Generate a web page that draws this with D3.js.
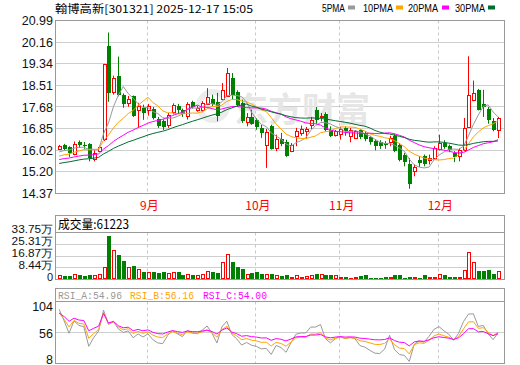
<!DOCTYPE html>
<html><head><meta charset="utf-8">
<script src="https://cdn.jsdelivr.net/npm/d3@7"></script>
<style>html,body{margin:0;padding:0;background:#fff;overflow:hidden}</style>
</head><body>
<svg id="c" width="520" height="365" xmlns="http://www.w3.org/2000/svg"></svg>
<script>
// ---------------- data ----------------
const dates = [
 "08-06","08-07","08-08","08-11","08-12","08-13","08-14","08-15","08-18","08-19","08-20","08-21","08-22","08-25","08-26","08-27","08-28","08-29",
 "09-01","09-02","09-03","09-04","09-05","09-08","09-09","09-10","09-11","09-12","09-15","09-16","09-17","09-18","09-19","09-22","09-23","09-24","09-25","09-26","09-29","09-30",
 "10-09","10-10","10-13","10-14","10-15","10-16","10-17","10-20","10-21","10-22","10-23","10-24","10-27","10-28","10-29","10-30","10-31",
 "11-03","11-04","11-05","11-06","11-07","11-10","11-11","11-12","11-13","11-14","11-17","11-18","11-19","11-20","11-21","11-24","11-25","11-26","11-27","11-28",
 "12-01","12-02","12-03","12-04","12-05","12-08","12-09","12-10","12-11","12-12","12-15","12-16","12-17"];
const openP = [16.08,16.22,16.15,15.90,16.34,16.22,16.27,15.70,16.00,16.45,20.01,18.25,18.85,18.15,17.83,18.10,17.57,17.65,
 17.55,17.60,17.22,17.13,17.00,17.47,17.73,17.55,17.32,17.86,17.55,17.55,17.81,17.99,17.86,17.99,18.11,18.79,18.24,17.83,17.09,17.30,
 17.17,16.88,16.24,16.94,16.11,16.46,16.33,15.99,16.56,16.69,16.75,17.01,17.58,17.30,17.43,16.81,16.62,
 16.66,16.88,16.58,16.50,16.81,16.69,16.53,16.37,16.33,16.30,16.33,16.58,16.24,15.86,15.48,15.22,15.67,15.79,15.64,15.73,
 16.08,16.30,16.20,15.92,15.79,16.05,16.92,17.93,18.34,17.81,17.60,17.13,16.81];
const highP = [16.23,16.27,16.18,16.36,16.40,16.34,16.30,16.02,16.20,19.33,20.53,18.88,19.61,18.20,18.10,18.12,17.84,17.77,
 17.80,17.68,17.30,17.20,17.45,17.82,17.80,17.62,17.86,17.92,17.72,17.90,18.40,18.15,18.22,18.60,19.17,18.98,18.32,17.96,17.45,17.58,
 17.26,17.00,16.84,17.00,16.62,16.69,16.43,16.30,16.88,16.97,16.92,17.30,17.68,17.45,17.48,16.94,16.80,
 16.92,16.94,16.88,16.80,16.84,16.75,16.58,16.43,16.41,16.37,16.58,16.66,16.30,15.92,15.73,15.48,15.80,15.86,15.86,16.18,
 16.62,16.41,16.24,15.99,16.11,17.26,19.62,18.69,18.37,18.34,17.68,17.26,17.30];
const lowP = [16.05,16.03,15.77,15.83,16.11,16.08,15.60,15.60,15.98,16.38,17.88,18.15,18.09,17.65,17.69,17.30,16.90,17.19,
 17.35,17.20,16.88,16.80,16.88,17.40,17.45,17.30,17.20,17.62,17.50,17.48,17.75,17.70,17.13,17.95,18.08,17.96,17.68,17.07,16.94,17.00,
 16.81,16.50,15.35,16.05,15.99,16.18,15.77,15.95,16.18,16.58,16.46,16.84,17.04,17.13,16.75,16.53,16.55,
 16.43,16.58,16.33,16.45,16.45,16.37,16.24,16.02,16.08,16.08,16.18,15.95,15.60,15.41,14.55,15.03,15.39,15.41,15.48,15.67,
 16.02,16.08,15.95,15.57,15.60,15.99,16.88,17.90,17.55,17.30,17.04,16.75,16.49];
const closeP = [16.18,16.08,15.93,16.28,16.21,16.19,15.71,15.93,16.15,19.33,18.23,18.80,18.15,17.80,17.99,17.35,17.73,17.46,
 17.73,17.26,16.97,16.90,17.39,17.77,17.58,17.42,17.81,17.68,17.65,17.83,18.06,17.81,17.35,18.34,19.00,18.15,17.77,17.13,17.30,17.04,
 16.92,16.69,16.71,16.08,16.46,16.28,15.82,16.24,16.75,16.84,16.84,17.20,17.20,17.35,16.81,16.58,16.75,
 16.84,16.75,16.79,16.75,16.52,16.46,16.33,16.20,16.18,16.24,16.49,15.99,15.64,15.57,14.75,15.39,15.55,15.48,15.73,16.11,
 16.30,16.15,16.02,15.77,16.05,16.88,18.15,18.21,17.58,17.68,17.20,16.79,17.26];
const volume = [31000,24000,24000,38000,31000,24000,31000,31000,38000,87000,309000,212000,176000,135000,87000,96000,72000,53000,
 53000,53000,48000,55000,48000,53000,53000,31000,43000,33000,33000,38000,58000,53000,48000,125000,183000,128000,91000,72000,43000,48000,
 55000,43000,43000,43000,29000,24000,29000,21500,29000,21500,24000,29000,43000,43000,29000,29000,29000,
 21500,21500,14000,21500,24000,29000,14000,14000,14000,21500,21500,29000,29000,14000,21500,21500,14000,29000,21500,21500,
 36000,29000,21500,21500,21500,65000,195000,123000,60000,60000,65000,43000,61223];
// closes before the visible window (estimated from where the MA / RSI lines start)
const priorCloses = [15.05,15.10,15.18,15.12,15.25,15.30,15.22,15.28,15.35,15.33,
 15.40,15.48,15.45,15.52,15.60,15.55,15.58,15.62,15.57,15.63,
 15.58,15.66,15.60,15.68,15.68,15.80,15.85,15.92,16.05];

const priceTicks = [20.99,20.16,19.34,18.51,17.68,16.85,16.02,15.20,14.37];
const priceTickLabels = ["20.99","20.16","19.34","18.51","17.68","16.85","16.02","15.20","14.37"];
const volTicks = [337500,253100,168700,84400,0];
const volTickLabels = ["33.75万","25.31万","16.87万","8.44万","0"];
const rsiTicks = [104,56,8];
const monthStarts = ["09-01","10-09","11-03","12-01"];
const monthLabels = ["9月","10月","11月","12月"];
const maPeriods = [5,10,20,30];
const maNames = ["5PMA","10PMA","20PMA","30PMA"];
const rsiPeriods = [6,12,24];
const rsiNames = ["RSI_A","RSI_B","RSI_C"];
const rsiShown = ["54.96","56.16","54.00"];
const titleText = "翰博高新[301321] 2025-12-17 15:05";
const volTitle = "成交量:61223";
const watermark = "东方财富";

// ---------------- styles ----------------
const RED = "#ff0000", GREEN = "#008000";
const maColors = ["#999999","#ffa500","#ff00ff","#006e33"];
const rsiColors = ["#999999","#ffa500","#ff00ff"];
const GRID = "#cfcfcf", BORDER = "#999999";
const NUMFONT = "'Liberation Sans', Arial, sans-serif";
const CJK = "'Noto Sans CJK SC', 'Liberation Sans', sans-serif";

const svg = d3.select("#c");
svg.append("rect").attr("width",520).attr("height",365).attr("fill","#fff");

const L = 55.5, R = 504.5;
const main = {top:20.5, bottom:193.5};
const vol = {top:215.5, head:232.5, bottom:279.5};
const rsi = {top:288.5, head:301.5, bottom:363.5};

const x = d3.scaleBand().domain(dates).range([56.7, 500.5]).padding(0);
const cx = d => x(d) + x.bandwidth()/2;
const yP = d3.scaleLinear().domain([14.37, 20.99]).range([main.bottom, main.top]);
const yV = d3.scaleLinear().domain([0, 337500]).range([vol.bottom, vol.head]);
const yR = d3.scaleLinear().domain([8, 104]).range([rsi.bottom, rsi.head]);
const crisp = v => Math.round(v - 0.5) + 0.5;

// ---------------- grids ----------------
const grid = svg.append("g");
priceTicks.slice(1, -1).forEach(t => {
  grid.append("line").attr("x1",L).attr("x2",R).attr("y1",crisp(yP(t))).attr("y2",crisp(yP(t)))
    .attr("stroke",GRID).attr("stroke-width",1);
});
volTicks.slice(1, -1).forEach(t => {
  grid.append("line").attr("x1",L).attr("x2",R).attr("y1",crisp(yV(t))).attr("y2",crisp(yV(t)))
    .attr("stroke",GRID).attr("stroke-width",1);
});
grid.append("line").attr("x1",L).attr("x2",R).attr("y1",crisp(yR(56))).attr("y2",crisp(yR(56)))
  .attr("stroke",GRID).attr("stroke-width",1);

monthStarts.forEach(m => {
  const xm = Math.round(cx(m) - 1) + 0.5;
  [[main.top, main.bottom],[vol.head, vol.bottom],[rsi.head, rsi.bottom]].forEach(([a,b]) => {
    grid.append("line").attr("x1",xm).attr("x2",xm).attr("y1",a).attr("y2",b)
      .attr("stroke","#c8c8c8").attr("stroke-width",1).attr("stroke-dasharray","3,3");
  });
});

// ---------------- watermark ----------------
const wm = svg.append("g");
wm.append("circle").attr("cx",213).attr("cy",106).attr("r",14)
  .attr("fill","none").attr("stroke","#ececec").attr("stroke-width",6);
wm.append("text").attr("x",234).attr("y",122).text(watermark)
  .attr("font-family",CJK).attr("font-size",34).attr("font-weight","bold")
  .attr("fill","#e6e6e6");

// ---------------- candles ----------------
const cg = svg.append("g");
dates.forEach((d,i) => {
  const px = Math.round(cx(d));
  const o = openP[i], c = closeP[i], h = highP[i], l = lowP[i];
  const up = c >= o;
  const top = Math.round(yP(Math.max(o,c)));
  let bot = Math.round(yP(Math.min(o,c)));
  if (bot - top < 1) bot = top + 1;
  const wx = px + 0.5;
  if (up) {
    cg.append("line").attr("x1",wx).attr("x2",wx).attr("y1",yP(h)).attr("y2",top)
      .attr("stroke",RED).attr("stroke-width",1);
    cg.append("line").attr("x1",wx).attr("x2",wx).attr("y1",bot+1).attr("y2",yP(l))
      .attr("stroke",RED).attr("stroke-width",1);
    cg.append("rect").attr("x",px-0.5).attr("y",top+0.5).attr("width",3).attr("height",Math.max(bot-top,1))
      .attr("fill","#fff").attr("stroke",RED).attr("stroke-width",1);
  } else {
    cg.append("line").attr("x1",wx).attr("x2",wx).attr("y1",yP(h)).attr("y2",yP(l))
      .attr("stroke",GREEN).attr("stroke-width",1);
    cg.append("rect").attr("x",px-1).attr("y",top).attr("width",4).attr("height",Math.max(bot-top,1))
      .attr("fill",GREEN);
  }
  // volume
  const vt = Math.round(yV(volume[i]));
  if (up) {
    cg.append("rect").attr("x",px-0.5).attr("y",vt+0.5).attr("width",3).attr("height",Math.max(279 - vt - 1,1))
      .attr("fill","#fff").attr("stroke",RED).attr("stroke-width",1);
  } else {
    cg.append("rect").attr("x",px-1).attr("y",vt).attr("width",4).attr("height",279 - vt)
      .attr("fill",GREEN);
  }
});

// ---------------- indicators ----------------
const allClose = priorCloses.concat(closeP);
const off = priorCloses.length;
maPeriods.forEach((n,k) => {
  const pts = dates.map((d,i) => {
    const j = i + off;
    const win = allClose.slice(Math.max(0, j-n+1), j+1);
    return [cx(d), yP(d3.mean(win))];
  });
  svg.append("path").attr("d", d3.line()(pts)).attr("fill","none")
    .attr("stroke",maColors[k]).attr("stroke-width",1);
});

function smaSeries(arr, n) {
  let prev = null;
  return arr.map(v => (prev = prev === null ? v : (v + (n-1)*prev)/n));
}
const diffs = allClose.slice(1).map((v,i) => v - allClose[i]);
rsiPeriods.forEach((n,k) => {
  const su = smaSeries(diffs.map(v => Math.max(v,0)), n);
  const sa = smaSeries(diffs.map(v => Math.abs(v)), n);
  const vals = su.map((u,i) => sa[i] === 0 ? 50 : u/sa[i]*100);
  const shown = vals.slice(vals.length - dates.length);
  const pts = dates.map((d,i) => [cx(d), yR(shown[i])]);
  svg.append("path").attr("d", d3.line()(pts)).attr("fill","none")
    .attr("stroke",rsiColors[k]).attr("stroke-width",1);
});

// ---------------- borders ----------------
const bd = svg.append("g").attr("fill","none").attr("stroke",BORDER).attr("stroke-width",1);
bd.append("rect").attr("x",L).attr("y",main.top).attr("width",R-L).attr("height",main.bottom-main.top);
bd.append("rect").attr("x",L).attr("y",vol.top).attr("width",R-L).attr("height",vol.bottom-vol.top);
bd.append("line").attr("x1",L).attr("x2",R).attr("y1",vol.head).attr("y2",vol.head);
bd.append("rect").attr("x",L).attr("y",rsi.top).attr("width",R-L).attr("height",rsi.bottom-rsi.top);
bd.append("line").attr("x1",L).attr("x2",R).attr("y1",rsi.head).attr("y2",rsi.head);

// ---------------- axes text ----------------
const tx = svg.append("g");
priceTicks.forEach((t,i) => {
  tx.append("text").attr("x",53).attr("y",yP(t)).attr("dy","0.36em").attr("text-anchor","end")
    .attr("font-family",NUMFONT).attr("font-size",12.5).attr("fill","#111").text(priceTickLabels[i]);
});
const volLabelY = [229, 241, 253, 265, 277];
volTicks.forEach((t,i) => {
  tx.append("text").attr("x",53).attr("y",volLabelY[i]).attr("dy","0.36em").attr("text-anchor","end")
    .attr("font-family",NUMFONT).attr("font-size",11).attr("fill","#111")
    .attr("textLength", volTickLabels[i].length > 1 ? volTickLabels[i].length * 6.9 : null)
    .attr("lengthAdjust","spacingAndGlyphs").text(volTickLabels[i]);
});
const rsiLabelY = [306.7, 333.3, 359];
rsiTicks.forEach((t,i) => {
  tx.append("text").attr("x",53).attr("y",rsiLabelY[i]).attr("dy","0.36em").attr("text-anchor","end")
    .attr("font-family",NUMFONT).attr("font-size",12.5).attr("fill","#111").text(String(t));
});
monthStarts.forEach((m,i) => {
  tx.append("text").attr("x",cx(m)+1.5).attr("y",210).attr("text-anchor","middle")
    .attr("font-family",CJK).attr("font-size",12).attr("fill",RED).text(monthLabels[i]);
});

// header
tx.append("text").attr("x",55).attr("y",13).attr("font-family",CJK).attr("font-size",11)
  .attr("fill","#000").attr("textLength",198).attr("lengthAdjust","spacingAndGlyphs").text(titleText);
const legX = [322, 363, 408, 455], legW = [23, 30, 30, 30], legSq = [348, 396, 442, 488];
maNames.forEach((n,k) => {
  tx.append("text").attr("x",legX[k]).attr("y",12).attr("font-family",NUMFONT).attr("font-size",11.5)
    .attr("fill","#000").attr("textLength",legW[k]).attr("lengthAdjust","spacingAndGlyphs").text(n);
  tx.append("rect").attr("x",legSq[k]).attr("y",5.5).attr("width",7).attr("height",4).attr("fill",maColors[k]);
});
tx.append("text").attr("x",58).attr("y",229).attr("font-family",CJK).attr("font-size",12.5)
  .attr("fill","#000").attr("textLength",71).attr("lengthAdjust","spacingAndGlyphs").text(volTitle);
const rsiHX = [58, 130, 203];
rsiNames.forEach((n,k) => {
  tx.append("text").attr("x",rsiHX[k]).attr("y",298.5).attr("font-family","'Liberation Mono', monospace")
    .attr("font-size",11).attr("fill",rsiColors[k]).attr("textLength",64).attr("lengthAdjust","spacingAndGlyphs")
    .text(n + ":" + rsiShown[k]);
});
</script>
</body></html>
